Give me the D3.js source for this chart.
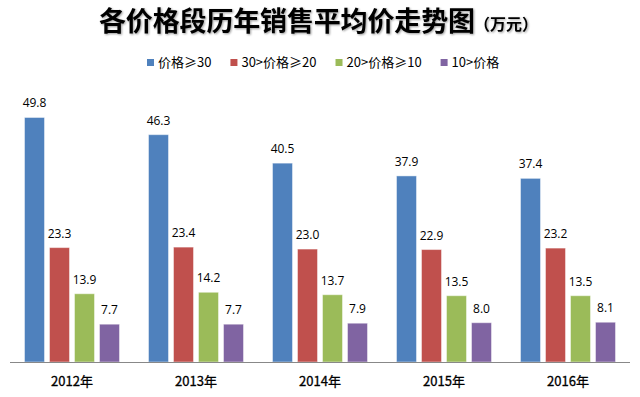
<!DOCTYPE html>
<html>
<head>
<meta charset="utf-8">
<script src="https://cdn.jsdelivr.net/npm/d3@7"></script>
<style>
  body { margin: 0; background: #fff; }
  svg { display: block; }
</style>
</head>
<body>
<script>
// chart data
var years = ["2012年", "2013年", "2014年", "2015年", "2016年"];
var seriesNames = ["价格≥30", "30>价格≥20", "20>价格≥10", "10>价格"];
var s1 = [49.8, 46.3, 40.5, 37.9, 37.4];
var s2 = [23.3, 23.4, 23.0, 22.9, 23.2];
var s3 = [13.9, 14.2, 13.7, 13.5, 13.5];
var s4 = [7.7, 7.7, 7.9, 8.0, 8.1];
var colors = ["#4F81BD", "#C0504D", "#9BBB59", "#8064A2"];

var width = 640, height = 397;
var cnFont = "'Noto Sans CJK SC', 'Noto Sans', sans-serif";

var svg = d3.select("body").append("svg")
  .attr("width", width)
  .attr("height", height);

var allSeries = [s1, s2, s3, s4];

// title with soft shadow
var defs = svg.append("defs");
var f = defs.append("filter").attr("id", "shadow")
  .attr("x", "-5%").attr("y", "-20%").attr("width", "110%").attr("height", "140%");
f.append("feGaussianBlur").attr("in", "SourceAlpha").attr("stdDeviation", 1).attr("result", "b");
f.append("feOffset").attr("in", "b").attr("dx", 1).attr("dy", 1).attr("result", "o");
f.append("feComponentTransfer").attr("in", "o").attr("result", "o2")
  .append("feFuncA").attr("type", "linear").attr("slope", 0.4);
var m = f.append("feMerge");
m.append("feMergeNode").attr("in", "o2");
m.append("feMergeNode").attr("in", "SourceGraphic");

var title = svg.append("g").attr("filter", "url(#shadow)");
title.append("text")
  .attr("x", 99)
  .attr("y", 31)
  .attr("font-family", cnFont)
  .attr("font-weight", "bold")
  .attr("font-size", 27)
  .attr("textLength", 376)
  .attr("lengthAdjust", "spacing")
  .attr("fill", "#000")
  .text("各价格段历年销售平均价走势图");
title.append("text")
  .attr("x", 474)
  .attr("y", 30)
  .attr("font-family", cnFont)
  .attr("font-weight", "bold")
  .attr("font-size", 16)
  .attr("fill", "#000")
  .text("（万元）");

// legend
var lx = 147;
seriesNames.forEach(function (name, i) {
  svg.append("rect")
    .attr("x", lx).attr("y", 59)
    .attr("width", 7).attr("height", 7)
    .attr("fill", colors[i]);
  var t = svg.append("text")
    .attr("x", lx + 11).attr("y", 67)
    .attr("font-family", cnFont)
    .attr("font-size", 13)
    .attr("fill", "#000")
    .text(name);
  lx = lx + 11 + t.node().getComputedTextLength() + 19;
});

// scales
var x0 = d3.scaleBand().domain(years).range([10, 630]);
var x1 = d3.scaleBand().domain(d3.range(4))
  .range([14.5, 109.5]).paddingInner(0.2).paddingOuter(0);
var y = d3.scaleLinear().domain([0, 50]).range([362, 116.5]);

var groups = svg.selectAll("g.year")
  .data(years)
  .enter().append("g")
  .attr("class", "year")
  .attr("transform", function (d) { return "translate(" + x0(d) + ",0)"; });

groups.each(function (yr, yi) {
  var g = d3.select(this);
  var vals = allSeries.map(function (s) { return s[yi]; });
  g.selectAll("rect")
    .data(vals)
    .enter().append("rect")
    .attr("x", function (d, i) { return x1(i); })
    .attr("y", function (d) { return y(d); })
    .attr("width", x1.bandwidth())
    .attr("height", function (d) { return y(0) - y(d); })
    .attr("fill", function (d, i) { return colors[i]; })
    .attr("stroke", "#fff")
    .attr("stroke-opacity", 0.45)
    .attr("stroke-width", 1);
  g.selectAll("text.val")
    .data(vals)
    .enter().append("text")
    .attr("class", "val")
    .attr("x", function (d, i) { return x1(i) + x1.bandwidth() / 2; })
    .attr("y", function (d) { return y(d) - 10; })
    .attr("text-anchor", "middle")
    .attr("font-family", "'Open Sans', 'Liberation Sans', sans-serif")
    .attr("font-size", 12)
    .attr("fill", "#000")
    .text(function (d) { return d.toFixed(1); });
});

// x axis
var xAxis = svg.append("g")
  .attr("transform", "translate(0," + y(0) + ")")
  .call(d3.axisBottom(x0).tickSize(0).tickPadding(0));
xAxis.select(".domain").attr("stroke", "#888").attr("d", "M10,0.5H630");
xAxis.selectAll(".tick text")
  .attr("y", 24)
  .attr("dy", 0)
  .attr("font-family", cnFont)
  .attr("font-size", 13)
  .attr("font-weight", 400)
  .attr("stroke", "#000")
  .attr("stroke-width", 0.3)
  .attr("fill", "#000");
</script>
</body>
</html>
